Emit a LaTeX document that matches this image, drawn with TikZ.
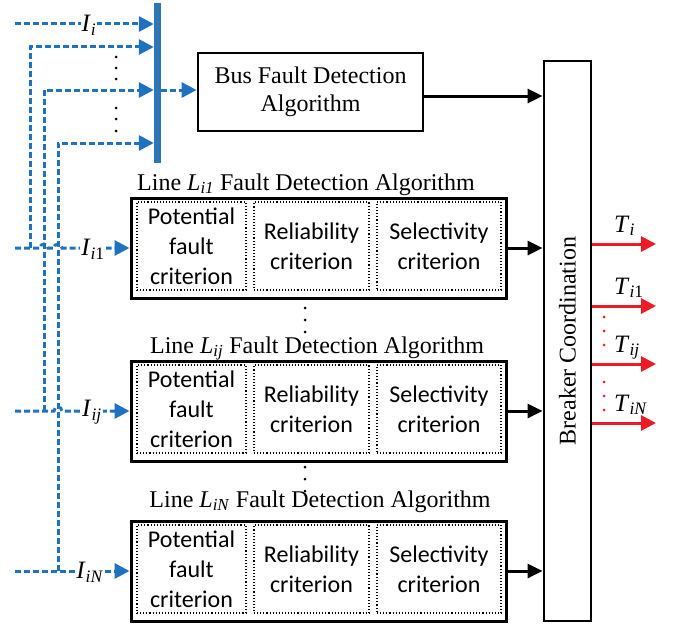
\documentclass[tikz,border=0pt]{standalone}
\usepackage{fontspec}
\setmainfont{Liberation Serif}
\newfontfamily\calibfont{Carlito}
\usetikzlibrary{arrows.meta}
\definecolor{busblue}{RGB}{46,117,182}
\definecolor{feedblue}{RGB}{30,114,192}
\definecolor{tripred}{RGB}{237,28,36}
\newcommand{\vsub}[2]{\textit{#1}\textsubscript{#2}}

\begin{document}
\begin{tikzpicture}[x=1pt,y=-1pt,
	font=\fontsize{24}{28}\selectfont,
	box/.style={draw, line width=2.8pt, align=center, inner sep=0pt},
	linebox/.style={draw, line width=3pt, minimum width=375, minimum height=100, inner sep=0pt},
	critbox/.style={draw, dotted, line width=1.1pt, minimum height=88, inner sep=0pt, align=center, font=\calibfont\fontsize{24}{30}\selectfont},
	feed/.style={draw=feedblue, line width=3pt, dash pattern=on 6pt off 3pt, -{Triangle[length=15pt,width=15pt]}},
	blk/.style={line width=3pt, -{Triangle[length=15pt,width=14pt]}},
	trip/.style={draw=tripred, line width=3pt, -{Triangle[length=15pt,width=15pt]}},
	lbl/.style={fill=white, inner sep=1pt, font=\fontsize{25}{27}\selectfont},
	tlbl/.style={inner sep=0pt, font=\fontsize{25}{27}\selectfont}]
	\useasboundingbox (0,0) rectangle (674,626);

	% bus and bus algorithm
	\node[fill=busblue, minimum width=7, minimum height=160, inner sep=0pt] (bus) at (157.5,83) {};
	\node[box, minimum width=225, minimum height=78] (busalg) at (310.5,92) {Bus Fault Detection\\Algorithm};
	\node[box, minimum width=47, minimum height=560] (brk) at (567.5,341) {};
	\node[rotate=90] (brktxt) at (brk.center) {Breaker Coordination};
	\draw[blk] ([yshift=-4pt]busalg.east) -- ([yshift=-4pt]busalg.east -| brk.west);

	% line algorithms
	\foreach \nm/\yy/\sb/\tx/\gp in {1/248/i1/306/8, j/411/ij/317/8, N/571/iN/320/14} {
		\node[linebox] (l\nm) at (318.5,\yy) {};
		\node[anchor=base] (t\nm) at (\tx,\yy-50-\gp) {Line \vsub{L}{\textit{\sb}} Fault Detection Algorithm};
		\node[critbox, minimum width=109] (p\nm) at (191.5,\yy-2) {Potential\\fault\\criterion};
		\node[critbox, minimum width=115] (r\nm) at (311.5,\yy-2) {Reliability\\criterion};
		\node[critbox, minimum width=124] (s\nm) at (439,\yy-2) {Selectivity\\criterion};
		\draw[blk] (l\nm.east) -- (l\nm.east -| brk.west);
	}

	% current inputs
	\coordinate (s0) at (15,24);
	\coordinate (s1) at (15,248);
	\coordinate (sj) at (15,411);
	\coordinate (sN) at (15,571);
	\coordinate (k1) at (30,47);
	\coordinate (kj) at (44,90);
	\coordinate (kN) at (58,143);

	\draw[feed] (s0) -- (s0 -| bus.west);
	\draw[feed] (k1 |- s1) -- (k1) -- (k1 -| bus.west);
	\draw[feed] (kj |- sj) -- (kj) -- (kj -| bus.west);
	\draw[feed] (kN |- sN) -- (kN) -- (kN -| bus.west);
	\draw[feed] (bus.east |- kj) -- (busalg.west |- kj);

	\draw[feed] (s1) -- ([xshift=-4pt]kj |- s1) arc[start angle=180,end angle=0,radius=4pt]
		-- ([xshift=-4pt]kN |- s1) arc[start angle=180,end angle=0,radius=4pt] -- (l1.west);
	\draw[feed] (sj) -- ([xshift=-4pt]kN |- sj) arc[start angle=180,end angle=0,radius=4pt] -- (lj.west);
	\draw[feed] (sN) -- (lN.west);

	\node[lbl] (ii) at (89,25) {\vsub{I}{\textit{i}}};
	\node[lbl] (ii1) at (93,249) {\vsub{I}{\textit{i}1}};
	\node[lbl] (iij) at (92,412) {\vsub{I}{\textit{ij}}};
	\node[lbl] (iiN) at (90,572) {\vsub{I}{\textit{iN}}};

	% trip outputs
	\foreach \nm/\yy/\sb in {0/244/{\textit{i}}, 1/306/{\textit{i}1}, j/364/{\textit{ij}}, N/423/{\textit{iN}}} {
		\coordinate (o\nm) at (656,\yy);
		\draw[trip] (brk.east |- o\nm) -- (o\nm);
		\node[anchor=base west, tlbl] (tt\nm) at (614,\yy-12) {\vsub{T}{\sb}};
	}

	% dots
	\foreach \dy in {57,68,79,108,119,131} \fill (116,\dy) circle (1.5pt);
	\foreach \dy in {308,320,332,467,479,491} \fill (305,\dy) circle (1.5pt);
	\foreach \dy in {317,331,345,382,396,410} \fill[tripred] (604,\dy) circle (1.5pt);

\end{tikzpicture}
\end{document}
